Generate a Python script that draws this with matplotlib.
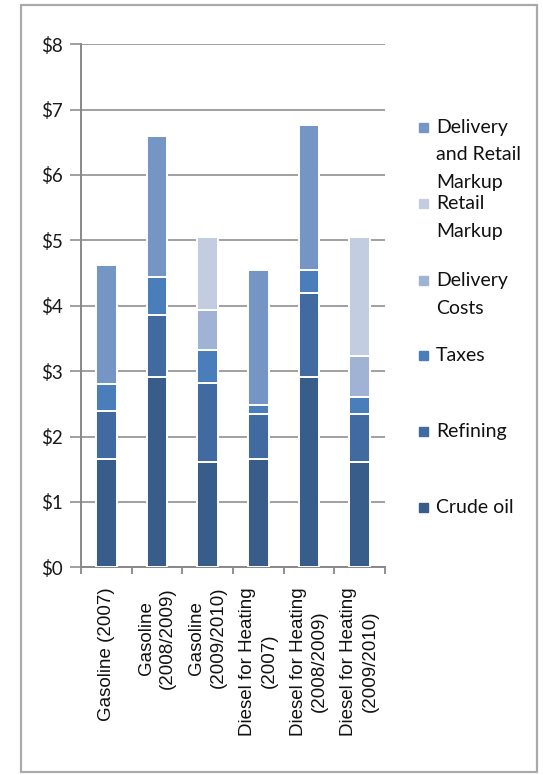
import matplotlib
matplotlib.use("Agg")
import matplotlib.pyplot as plt
from matplotlib.patches import Rectangle
import numpy as np

categories = ["Gasoline (2007)", "Gasoline\n(2008/2009)", "Gasoline\n(2009/2010)",
              "Diesel for Heating\n(2007)", "Diesel for Heating\n(2008/2009)",
              "Diesel for Heating\n(2009/2010)"]
crude = [1.65, 2.91, 1.61, 1.65, 2.91, 1.61]
refining = [0.74, 0.95, 1.21, 0.70, 1.29, 0.74]
taxes = [0.41, 0.58, 0.50, 0.13, 0.34, 0.26]
delivery = [0, 0, 0.62, 0, 0, 0.62]
retail = [0, 0, 1.11, 0, 0, 1.82]
deliv_retail = [1.82, 2.15, 0, 2.06, 2.22, 0]

series = [("Crude oil", crude, "#385d8a"),
          ("Refining", refining, "#416aa0"),
          ("Taxes", taxes, "#4a7ebb"),
          ("Delivery\nCosts", delivery, "#a1b3d4"),
          ("Retail\nMarkup", retail, "#c2cde1"),
          ("Delivery\nand Retail\nMarkup", deliv_retail, "#7595c5")]
yticks = [0, 1, 2, 3, 4, 5, 6, 7, 8]

fig = plt.figure(figsize=(5.43, 7.75), dpi=100)
ax = fig.add_axes([0.1492, 0.268, 0.5599, 0.675])

x = np.arange(len(categories))
bottom = np.zeros(len(categories))
for name, vals, col in series:
    v = np.array(vals)
    ax.bar(x, v, width=0.41, bottom=bottom, color=col, edgecolor="white",
           linewidth=1.4, zorder=3)
    bottom += v

ax.set_xlim(-0.5, len(categories) - 0.5)
ax.set_ylim(0, 8)
ax.set_yticks(yticks)
ax.set_yticklabels(["$%d" % t for t in yticks], fontfamily="Lato", fontsize=13.5,
                   color="#1a1a1a")
ax.yaxis.grid(True, color="#999999", linewidth=1.3, zorder=0)
ax.tick_params(axis="y", length=8, width=1.3, color="#999999", pad=5)

ax.set_xticks(np.arange(len(categories) + 1) - 0.5, minor=False)
ax.set_xticklabels([])
ax.tick_params(axis="x", length=5, width=1.3, color="#888888", direction="out")
for i, lab in enumerate(categories):
    ax.text(i, -0.3, lab, rotation=90, ha="center", va="top",
            multialignment="center", fontsize=13.5, fontfamily="Liberation Sans",
            color="#111111", linespacing=1.35)

for s in ["top", "right"]:
    ax.spines[s].set_visible(False)
for s in ["left", "bottom"]:
    ax.spines[s].set_color("#888888")
    ax.spines[s].set_linewidth(1.4)

# legend, drawn by hand
leg_y = [127, 203, 280, 355, 431, 507]
for (name, vals, col), yy in zip(series[::-1], leg_y):
    fy = 1 - yy / 775
    fig.patches.append(Rectangle((419 / 543, fy - 4.5 / 775), 9 / 543, 9 / 775,
                                 transform=fig.transFigure, color=col))
    fig.text(436 / 543, fy + 8 / 775, name, ha="left", va="top", fontsize=14,
             fontfamily="Lato", color="#111111", linespacing=1.75)

fig.patches.append(Rectangle((21 / 543, 1 - 772 / 775), 516 / 543, 767 / 775,
                             transform=fig.transFigure, fill=False,
                             edgecolor="#aaaaaa", linewidth=1.6))

fig.savefig("out.png", dpi=100)
